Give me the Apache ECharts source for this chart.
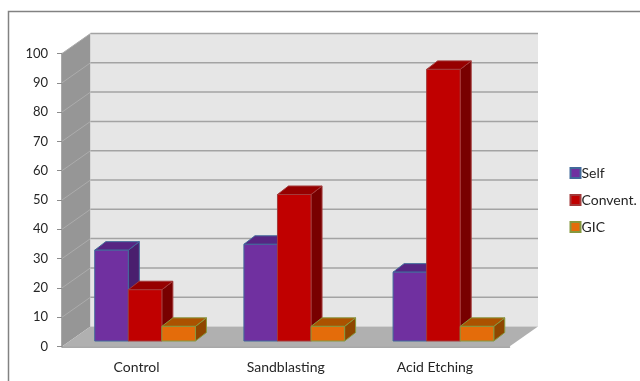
<!DOCTYPE html>
<html>
<head>
<meta charset="utf-8">
<style>
  html, body { margin: 0; padding: 0; background: #fff; }
  #chart { width: 640px; height: 381px; }
</style>
<script src="https://cdn.jsdelivr.net/npm/echarts@6/dist/echarts.min.js"></script>
</head>
<body>
<div id="chart"></div>
<script>
const categories = ["Control", "Sandblasting", "Acid Etching"];
const selfValues = [31, 33, 23.5];
const conventValues = [17.5, 50, 92.7];
const gicValues = [5, 5, 5];
const yTicks = [10, 20, 30, 40, 50, 60, 70, 80, 90, 100];

// fake 3d: how far the back wall and the bars are pushed
const WALL_DX = 28.5, WALL_DY = -20;
const BAR_DX = 11, BAR_DY = -8.5;
const BAR_SHIFT_X = 8.5, BAR_SHIFT_Y = -5.5;
const BAR_BAND = 0.225;

const chart = echarts.init(document.getElementById("chart"));

function poly(points, fill, stroke, lineWidth) {
  return {
    type: "polygon",
    shape: { points: points },
    style: { fill: fill, stroke: stroke || null, lineWidth: lineWidth || 0 }
  };
}

function renderWalls(params) {
  const c = params.coordSys;
  const l = c.x, r = c.x + c.width, t = c.y, b = c.y + c.height;
  return {
    type: "group",
    children: [
      poly([[l, t], [l + WALL_DX, t + WALL_DY], [l + WALL_DX, b + WALL_DY], [l, b]], "#969696"),
      poly([[l + WALL_DX, t + WALL_DY], [r + WALL_DX, t + WALL_DY], [r + WALL_DX, b + WALL_DY], [l + WALL_DX, b + WALL_DY]], "#e6e6e6"),
      poly([[l, b], [r, b], [r + WALL_DX, b + WALL_DY], [l + WALL_DX, b + WALL_DY]], "#b0b0b0")
    ]
  };
}

function renderGridLine(params, api) {
  const c = params.coordSys;
  const y = api.coord([0, api.value(0)])[1];
  return {
    type: "group",
    children: [
      { type: "line", shape: { x1: c.x, y1: y, x2: c.x + WALL_DX, y2: y + WALL_DY },
        style: { stroke: "#acacac", lineWidth: 1 } },
      { type: "line", shape: { x1: c.x + WALL_DX, y1: y + WALL_DY, x2: c.x + c.width + WALL_DX, y2: y + WALL_DY },
        style: { stroke: "#a3a3a3", lineWidth: 1.5 } }
    ]
  };
}

function barRenderer(slot, colors) {
  return function (params, api) {
    const idx = api.value(0);
    const base = api.coord([idx, 0]);
    const top = api.coord([idx, api.value(1)]);
    const w = api.size([1, 0])[0] * BAR_BAND;
    const x0 = base[0] + BAR_SHIFT_X + (slot - 1.5) * w;
    const x1 = x0 + w;
    const y0 = base[1] + BAR_SHIFT_Y;
    const y1 = top[1] + BAR_SHIFT_Y;
    const border = colors.border;
    return {
      type: "group",
      children: [
        poly([[x1, y1], [x1 + BAR_DX, y1 + BAR_DY], [x1 + BAR_DX, y0 + BAR_DY], [x1, y0]], colors.side, border, 1),
        poly([[x0, y1], [x0 + BAR_DX, y1 + BAR_DY], [x1 + BAR_DX, y1 + BAR_DY], [x1, y1]], colors.top, border, 1),
        poly([[x0, y1], [x1, y1], [x1, y0], [x0, y0]], colors.front, border, 1)
      ]
    };
  };
}

function barSeries(name, values, slot, colors) {
  return {
    name: name,
    type: "custom",
    z: 5 + slot,
    itemStyle: { color: colors.front, borderColor: colors.border, borderWidth: 1 },
    encode: { x: 0, y: 1 },
    data: values.map((v, i) => [i, v]),
    renderItem: barRenderer(slot, colors)
  };
}

chart.setOption({
  animation: false,
  backgroundColor: "#fff",
  textStyle: { fontFamily: "Lato" },
  graphic: [{
    type: "rect",
    z: -10,
    shape: { x: 8.5, y: 11.5, width: 700, height: 500 },
    style: { fill: "none", stroke: "#828282", lineWidth: 1.5 }
  }],
  grid: { left: 62, top: 53.5, width: 447.5, height: 293 },
  legend: {
    orient: "vertical",
    left: 564.5,
    top: 160,
    itemWidth: 10,
    itemHeight: 10,
    itemGap: 11,
    icon: "rect",
    textStyle: { fontFamily: "Lato", fontSize: 14, color: "#262626", padding: [0, 0, 0, -4], lineHeight: 16 },
    data: ["Self", "Convent.", "GIC"]
  },
  xAxis: {
    type: "category",
    data: categories,
    axisLine: { lineStyle: { color: "#8c8c8c", width: 1.5 } },
    axisTick: { length: 5, lineStyle: { color: "#8c8c8c", width: 1 } },
    axisLabel: { color: "#262626", fontSize: 14, margin: 14 }
  },
  yAxis: {
    type: "value",
    min: 0,
    max: 100,
    interval: 10,
    splitLine: { show: false },
    axisLine: { show: true, lineStyle: { color: "#8c8c8c", width: 1.5 } },
    axisTick: { show: true, length: 5, lineStyle: { color: "#8c8c8c", width: 1 } },
    axisLabel: { color: "#262626", fontSize: 13, margin: 14, padding: [2, 0, 0, 0] }
  },
  series: [
    { type: "custom", silent: true, z: 1, data: [0], renderItem: renderWalls },
    { type: "custom", silent: true, z: 2, data: yTicks.map(v => [v]), encode: { y: 0 }, renderItem: renderGridLine },
    barSeries("Self", selfValues, 0, { front: "#7030a0", top: "#572583", side: "#4a1f6e", border: "#41699a" }),
    barSeries("Convent.", conventValues, 1, { front: "#c00000", top: "#960000", side: "#780000", border: "#a33a3a" }),
    barSeries("GIC", gicValues, 2, { front: "#e46c0a", top: "#ab5200", side: "#8f4600", border: "#86983f" })
  ]
});
</script>
</body>
</html>
